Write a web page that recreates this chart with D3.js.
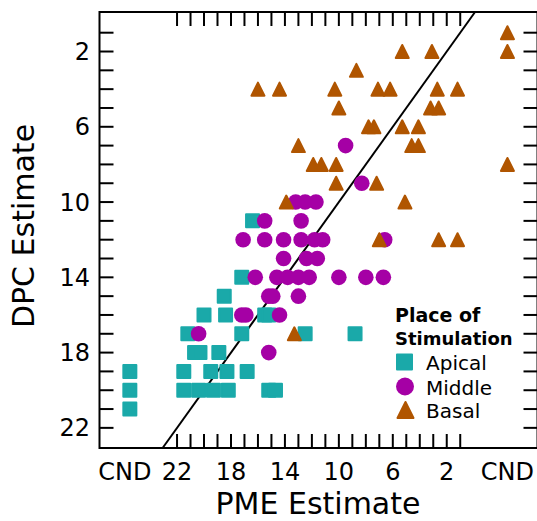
<!DOCTYPE html>
<html>
<head>
<meta charset="utf-8">
<script src="https://cdn.jsdelivr.net/npm/d3@7"></script>
<style>
  html, body { margin: 0; padding: 0; background: #fff; }
  svg { display: block; }
  text { font-family: "DejaVu Sans", sans-serif; fill: #000; }
</style>
</head>
<body>
<svg id="chart" width="537" height="521"></svg>
<script>
// CND ("could not determine") positions on the PME axis
const CND_LO = 25.5;
const CND_HI = -2.5;

const xTickValues = [CND_LO, 22, 18, 14, 10, 6, 2, CND_HI];
const xTickLabels = ["CND", "22", "18", "14", "10", "6", "2", "CND"];
const yTickValues = [2, 6, 10, 14, 18, 22];
const yTickLabels = ["2", "6", "10", "14", "18", "22"];
const minorTicks = d3.range(1, 23);

const seriesNames = ["Apical", "Middle", "Basal"];
const seriesColors = ["#1aa9a9", "#a500a5", "#b05500"];

// [PME estimate, DPC estimate]
const apical = [
  [CND_LO,19],[CND_LO,20],[CND_LO,21],
  [16.4,11],[17.2,14],[18.5,15],
  [20.0,16],[18.4,16],[15.5,16],[15.2,16],
  [21.2,17],[17.2,17],[12.5,17],[8.8,17],
  [20.7,18],[20.3,18],[18.9,18],
  [21.5,19],[19.5,19],[18.3,19],[16.8,19],
  [21.5,20],[20.4,20],[19.3,20],[18.2,20],[15.2,20],[14.7,20]
];
const middle = [
  [9.5,7],[8.3,9],[13.2,10],[12.5,10],[11.7,10],[15.5,11],[12.8,11],
  [17.1,12],[15.5,12],[14.1,12],[12.8,12],[11.8,12],[11.2,12],[6.6,12],
  [14.1,13],[12.4,13],[11.6,13],
  [16.2,14],[14.6,14],[13.8,14],[13.0,14],[12.2,14],[10.0,14],[8.0,14],[6.7,14],
  [15.2,15],[14.9,15],[13.0,15],
  [17.2,16],[16.9,16],[14.4,16],
  [20.4,17],[15.2,18]
];
const basal = [
  [CND_HI,1],[5.3,2],[3.1,2],[CND_HI,2],[8.7,3],
  [16.0,4],[14.4,4],[10.3,4],[7.1,4],[6.2,4],[2.7,4],[1.2,4],
  [10.0,5],[3.2,5],[2.6,5],
  [7.8,6],[7.4,6],[5.3,6],[4.1,6],
  [13.0,7],[4.6,7],[4.1,7],
  [11.9,8],[11.3,8],[10.2,8],[CND_HI,8],
  [10.2,9],[7.2,9],
  [13.9,10],[5.1,10],
  [7.0,12],[2.6,12],[1.2,12],
  [13.3,17]
];

const svg = d3.select("#chart");
const pLeft = 99.5, pRight = 537.5, pTop = 12, pBottom = 448;

const x = d3.scaleLinear().domain([27.75, -4.73]).range([pLeft, pRight]);
const y = d3.scaleLinear().domain([-0.1, 23.07]).range([pTop, pBottom]);

const tickLen = 14;

// ticks (inward) on all four sides
const axes = svg.append("g").attr("stroke", "#000").attr("stroke-width", 2);
minorTicks.forEach(v => {
  axes.append("line").attr("x1", x(v)).attr("x2", x(v)).attr("y1", pBottom).attr("y2", pBottom - tickLen);
  axes.append("line").attr("x1", x(v)).attr("x2", x(v)).attr("y1", pTop).attr("y2", pTop + tickLen);
  axes.append("line").attr("y1", y(v)).attr("y2", y(v)).attr("x1", pLeft).attr("x2", pLeft + tickLen);
  axes.append("line").attr("y1", y(v)).attr("y2", y(v)).attr("x1", pRight).attr("x2", pRight - tickLen);
});

// identity line
const lo = y.domain()[0], hi = y.domain()[1];
svg.append("line")
  .attr("x1", x(hi)).attr("y1", y(hi))
  .attr("x2", x(lo)).attr("y2", y(lo))
  .attr("stroke", "#000").attr("stroke-width", 2);

// frame
svg.append("rect")
  .attr("x", pLeft).attr("y", pTop)
  .attr("width", pRight - pLeft).attr("height", pBottom - pTop)
  .attr("fill", "none").attr("stroke", "#000").attr("stroke-width", 2);

// markers
const triPath = s => `M0,${-s}L${s},${s}L${-s},${s}Z`;
const pts = svg.append("g");
pts.selectAll(".sq").data(apical).enter().append("rect")
  .attr("x", d => x(d[0]) - 6.5).attr("y", d => y(d[1]) - 6.5)
  .attr("width", 13).attr("height", 13)
  .attr("fill", seriesColors[0]).attr("stroke", seriesColors[0])
  .attr("stroke-width", 2).attr("stroke-linejoin", "round");
pts.selectAll(".ci").data(middle).enter().append("circle")
  .attr("cx", d => x(d[0])).attr("cy", d => y(d[1])).attr("r", 7.8)
  .attr("fill", seriesColors[1]);
pts.selectAll(".tr").data(basal).enter().append("path")
  .attr("transform", d => `translate(${x(d[0])},${y(d[1])})`)
  .attr("d", triPath(6.5))
  .attr("fill", seriesColors[2]).attr("stroke", seriesColors[2])
  .attr("stroke-width", 2).attr("stroke-linejoin", "round");

// tick labels
xTickValues.forEach((v, i) => {
  svg.append("text").attr("x", x(v) + (i === 0 ? -5 : 0)).attr("y", 480)
    .attr("text-anchor", "middle").attr("font-size", 24)
    .text(xTickLabels[i]);
});
yTickValues.forEach((v, i) => {
  svg.append("text").attr("x", 90).attr("y", y(v) + 8.5)
    .attr("text-anchor", "end").attr("font-size", 24)
    .text(yTickLabels[i]);
});

// axis titles
svg.append("text").attr("x", 318).attr("y", 514)
  .attr("text-anchor", "middle").attr("font-size", 30).text("PME Estimate");
svg.append("text").attr("transform", "translate(34,226) rotate(-90)")
  .attr("text-anchor", "middle").attr("font-size", 30).text("DPC Estimate");

// legend
const lg = svg.append("g");
lg.append("text").attr("x", 395).attr("y", 322).attr("font-size", 19).attr("font-weight", "bold").text("Place of");
lg.append("text").attr("x", 395).attr("y", 345).attr("font-size", 18).attr("font-weight", "bold").text("Stimulation");
const ly = [362, 386.5, 410];
lg.append("rect").attr("x", 397).attr("y", ly[0] - 7.5).attr("width", 15).attr("height", 15)
  .attr("fill", seriesColors[0]).attr("stroke", seriesColors[0]).attr("stroke-width", 2).attr("stroke-linejoin", "round");
lg.append("circle").attr("cx", 405).attr("cy", ly[1]).attr("r", 9).attr("fill", seriesColors[1]);
lg.append("path").attr("transform", `translate(405.5,${ly[2]})`).attr("d", triPath(8))
  .attr("fill", seriesColors[2]).attr("stroke", seriesColors[2]).attr("stroke-width", 2).attr("stroke-linejoin", "round");
seriesNames.forEach((n, i) => {
  lg.append("text").attr("x", 426).attr("y", ly[i] + 8).attr("font-size", 20).text(n);
});
</script>
</body>
</html>
